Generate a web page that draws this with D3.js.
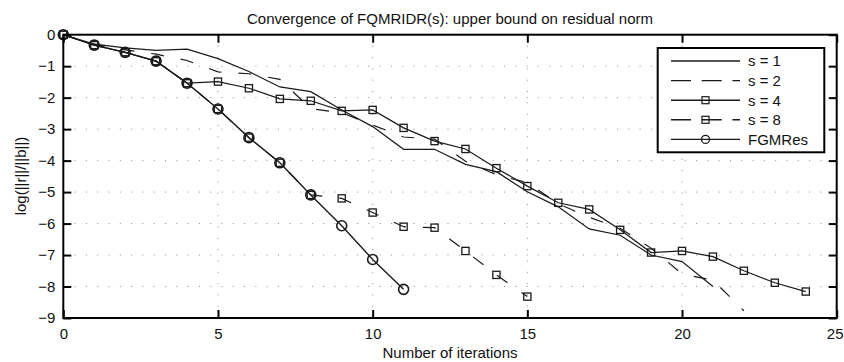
<!DOCTYPE html>
<html>
<head>
<meta charset="utf-8">
<script src="https://cdn.jsdelivr.net/npm/d3@7.9.0/dist/d3.min.js"></script>
<style>
  body { margin: 0; background: #fff; }
  svg text { font-family: "Liberation Sans", Arial, Helvetica, sans-serif; fill: #111; }
</style>
</head>
<body>
<svg id="chart" width="844" height="362"></svg>
<script>
// log10 of ||r||/||b|| per iteration
const s1 = [0, -0.3, -0.42, -0.5, -0.46, -0.76, -1.17, -1.66, -1.81, -2.39, -2.92, -3.64, -3.64, -4.12, -4.35, -4.99, -5.47, -6.17, -6.37, -7.0, -7.21, -8.0];
const s2 = [0, -0.3, -0.48, -0.62, -0.82, -1.18, -1.24, -1.42, -2.35, -2.48, -2.87, -3.25, -3.32, -4.02, -4.45, -4.7, -5.37, -5.8, -6.15, -6.78, -7.6, -7.8, -8.77];
const s4 = [0, -0.33, -0.56, -0.84, -1.54, -1.49, -1.7, -2.04, -2.1, -2.42, -2.39, -2.96, -3.38, -3.63, -4.24, -4.81, -5.34, -5.55, -6.2, -6.92, -6.87, -7.05, -7.5, -7.88, -8.16];
const s8 = [0, -0.33, -0.56, -0.84, -1.54, -2.36, -3.27, -4.07, -5.09, -5.2, -5.65, -6.1, -6.13, -6.87, -7.63, -8.32];
const fgmres = [0, -0.33, -0.56, -0.84, -1.54, -2.36, -3.27, -4.07, -5.09, -6.07, -7.14, -8.09];

const xTicks = [0, 5, 10, 15, 20, 25];
const yTicks = [0, -1, -2, -3, -4, -5, -6, -7, -8, -9];

const series = [
  { name: 's = 1', values: s1, dashed: false, marker: null },
  { name: 's = 2', values: s2, dashed: true, marker: null },
  { name: 's = 4', values: s4, dashed: false, marker: 'square' },
  { name: 's = 8', values: s8, dashed: true, marker: 'square' },
  { name: 'FGMRes', values: fgmres, dashed: false, marker: 'circle' }
];

const plotLeft = 63.3, plotRight = 836.7, plotTop = 34.7, plotBottom = 318;
const ink = '#1a1a1a';

const svg = d3.select('#chart');
const x = d3.scaleLinear().domain([0, 25]).range([plotLeft, plotRight]);
const y = d3.scaleLinear().domain([-9, 0]).range([plotBottom, plotTop]);

// dotted grid
const grid = svg.append('g')
  .attr('stroke', '#8a8a8a')
  .attr('stroke-width', 1)
  .attr('stroke-dasharray', '1,10.3');
grid.selectAll('.vg').data(xTicks.slice(1, -1)).join('line')
  .attr('x1', d => x(d)).attr('x2', d => x(d))
  .attr('y1', plotBottom).attr('y2', plotTop);
grid.selectAll('.hg').data(yTicks.slice(1, -1)).join('line')
  .attr('x1', plotLeft).attr('x2', plotRight)
  .attr('y1', d => y(d)).attr('y2', d => y(d));

// axes (ticks point inward)
function styleAxis(g) {
  g.select('.domain').remove();
  g.selectAll('.tick line').attr('stroke', '#000').attr('stroke-width', 2);
  g.selectAll('.tick text')
    .style('font-size', '15px')
    .style('font-family', '"Liberation Sans", Arial, Helvetica, sans-serif')
    .attr('fill', '#111');
}
const xAxisG = svg.append('g').attr('transform', `translate(0,${plotBottom})`)
  .call(d3.axisBottom(x).tickValues(xTicks).tickSize(-8).tickPadding(10))
  .call(styleAxis);
// last label sits at the window edge; nudge it in so it is not clipped
xAxisG.selectAll('.tick text').filter(d => d === 25).attr('dx', -2);

svg.append('g').attr('transform', `translate(0,${plotTop})`)
  .call(d3.axisTop(x).tickValues(xTicks).tickSize(-8).tickFormat(''))
  .call(styleAxis);
svg.append('g').attr('transform', `translate(${plotLeft},0)`)
  .call(d3.axisLeft(y).tickValues(yTicks).tickSize(-8).tickPadding(8))
  .call(styleAxis);
svg.append('g').attr('transform', `translate(${plotRight},0)`)
  .call(d3.axisRight(y).tickValues(yTicks).tickSize(-8).tickFormat(''))
  .call(styleAxis);

// data lines
const line = d3.line().x((d, i) => x(i)).y(d => y(d));
const plot = svg.append('g');

function drawMarkers(g, type, pts) {
  if (type === 'square') {
    g.selectAll(null).data(pts).join('rect')
      .attr('x', d => d[0] - 3.6).attr('y', d => d[1] - 3.6)
      .attr('width', 7.2).attr('height', 7.2)
      .attr('fill', 'none').attr('stroke', ink).attr('stroke-width', 1.3);
  } else if (type === 'circle') {
    g.selectAll(null).data(pts).join('circle')
      .attr('cx', d => d[0]).attr('cy', d => d[1]).attr('r', 5)
      .attr('fill', 'none').attr('stroke', ink).attr('stroke-width', 1.6);
  }
}

series.forEach(s => {
  plot.append('path')
    .datum(s.values)
    .attr('d', line)
    .attr('fill', 'none')
    .attr('stroke', ink)
    .attr('stroke-width', s.marker === 'circle' ? 1.4 : 1.2)
    .attr('stroke-dasharray', s.dashed ? '13,17' : null);
  drawMarkers(plot, s.marker, s.values.map((v, i) => [x(i), y(v)]));
});

// plot box
svg.append('rect')
  .attr('x', plotLeft).attr('y', plotTop)
  .attr('width', plotRight - plotLeft).attr('height', plotBottom - plotTop)
  .attr('fill', 'none').attr('stroke', '#000').attr('stroke-width', 2);

// legend
const lg = svg.append('g');
lg.append('rect')
  .attr('x', 657.7).attr('y', 48).attr('width', 166.6).attr('height', 104.3)
  .attr('fill', '#fff').attr('stroke', '#000').attr('stroke-width', 2);
series.forEach((s, i) => {
  const cy = 61 + i * 19.6;
  lg.append('line')
    .attr('x1', 671).attr('x2', 740).attr('y1', cy).attr('y2', cy)
    .attr('stroke', ink).attr('stroke-width', 1.4)
    .attr('stroke-dasharray', s.dashed ? '20,10.7' : null);
  if (s.marker === 'square') {
    lg.append('rect').attr('x', 702).attr('y', cy - 3.5).attr('width', 7).attr('height', 7)
      .attr('fill', 'none').attr('stroke', ink).attr('stroke-width', 1.2);
  } else if (s.marker === 'circle') {
    lg.append('circle').attr('cx', 705.5).attr('cy', cy).attr('r', 4)
      .attr('fill', 'none').attr('stroke', ink).attr('stroke-width', 1.3);
  }
  lg.append('text').attr('x', 748).attr('y', cy + 5.3)
    .style('font-size', '15px').text(s.name);
});

// title and axis labels
svg.append('text').attr('x', 450).attr('y', 24).attr('text-anchor', 'middle')
  .style('font-size', '15px')
  .text('Convergence of FQMRIDR(s): upper bound on residual norm');
svg.append('text').attr('x', 450).attr('y', 358).attr('text-anchor', 'middle')
  .style('font-size', '15px')
  .text('Number of iterations');
svg.append('text').attr('transform', 'translate(26,176) rotate(-90)')
  .attr('text-anchor', 'middle')
  .style('font-size', '15px')
  .text('log(||r||/||b||)');
</script>
</body>
</html>
